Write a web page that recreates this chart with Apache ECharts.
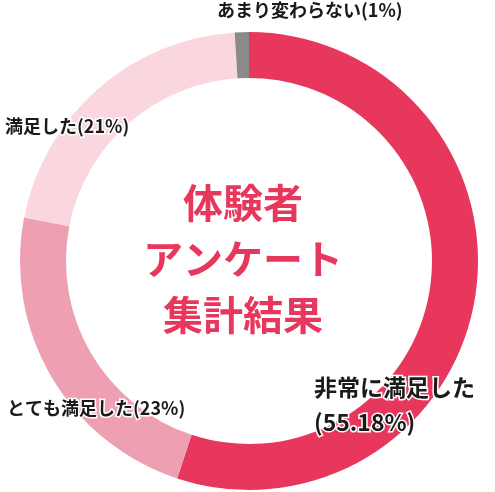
<!DOCTYPE html>
<html>
<head>
<meta charset="utf-8">
<script src="https://cdn.jsdelivr.net/npm/echarts@6/dist/echarts.min.js"></script>
<style>
  html, body { margin: 0; padding: 0; background: #fff; }
  #main { width: 495px; height: 492px; }
</style>
</head>
<body>
<div id="main"></div>
<script>
// アンケート結果
var categories = ['非常に満足した', 'とても満足した', '満足した', 'あまり変わらない']
var values = [55.18, 23, 21, 1]
var pctLabels = ['55.18%', '23%', '21%', '1%']
var centerTitle = ['体験者', 'アンケート', '集計結果']

var colors = ['#e8375c', '#eea0b2', '#fad7df', '#8a8a8a']
var fontFamily = '"Noto Sans CJK JP", "Noto Sans", sans-serif'

// ラベルの位置（左端, 中央）
var labelPos = [
  { x: 314, y: 405 },
  { x: 7, y: 408 },
  { x: 5, y: 126 },
  { x: 217, y: 10 }
]

var myChart = echarts.init(document.getElementById('main'))

var option = {
  animation: false,
  graphic: [{
    type: 'text',
    style: {
      text: centerTitle.join('\n'),
      x: 243,
      y: 259,
      align: 'center',
      verticalAlign: 'middle',
      fill: '#e8375c',
      font: 'bold 40px ' + fontFamily,
      lineHeight: 56
    }
  }],
  series: [{
    type: 'pie',
    center: [249, 261],
    radius: [183, 229],
    startAngle: 90,
    clockwise: true,
    avoidLabelOverlap: false,
    itemStyle: { borderWidth: 0 },
    label: {
      show: true,
      position: 'outside',
      color: '#1a1a1a',
      fontFamily: fontFamily,
      fontWeight: 'bold',
      fontSize: 18,
      textBorderColor: '#fff',
      textBorderWidth: 3,
      formatter: function (p) {
        if (p.dataIndex === 0) {
          return p.name + '\n(' + pctLabels[p.dataIndex] + ')'
        }
        return p.name + '(' + pctLabels[p.dataIndex] + ')'
      }
    },
    labelLine: { show: false },
    labelLayout: function (params) {
      var pos = labelPos[params.dataIndex]
      return {
        x: pos.x,
        y: pos.y,
        align: 'left',
        verticalAlign: 'middle'
      }
    },
    data: categories.map(function (name, i) {
      var item = {
        name: name,
        value: values[i],
        itemStyle: { color: colors[i] }
      }
      if (i === 0) {
        item.label = { fontSize: 23, lineHeight: 35 }
      }
      return item
    })
  }]
}

myChart.setOption(option)
</script>
</body>
</html>
